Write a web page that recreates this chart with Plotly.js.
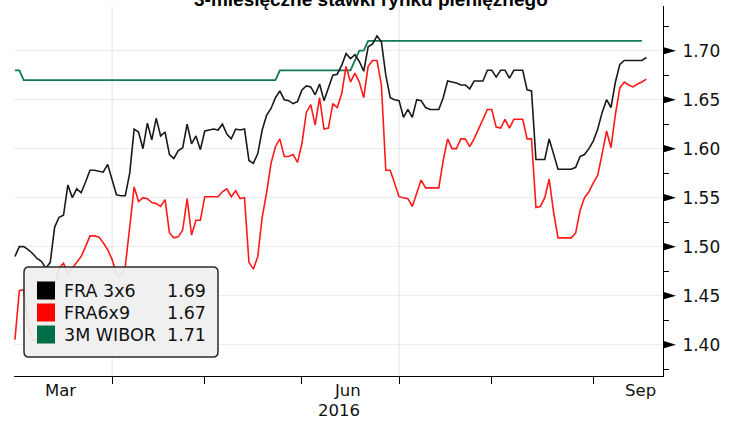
<!DOCTYPE html>
<html><head><meta charset="utf-8">
<script src="https://cdn.plot.ly/plotly-3.0.1.min.js"></script>
<style>html,body{margin:0;padding:0;background:#fff;}#chart{width:735px;height:423px;}</style>
</head><body><div id="chart"></div>
<script>
// ---- data (one value per business day, starting 2016-03-02) ----
const startDate = '2016-03-02';
const fra3x6 = [
1.490,1.500,1.500,1.497,1.493,1.488,1.485,1.478,1.484,1.520,
1.530,1.532,1.563,1.550,1.559,1.555,1.566,1.578,1.578,1.577,
1.576,1.584,1.567,1.553,1.552,1.552,1.575,1.620,1.617,1.600,
1.626,1.609,1.631,1.613,1.617,1.594,1.590,1.598,1.601,1.625,
1.605,1.613,1.599,1.618,1.619,1.620,1.619,1.625,1.615,1.610,
1.620,1.619,1.620,1.588,1.585,1.595,1.619,1.634,1.641,1.652,
1.659,1.650,1.649,1.646,1.648,1.660,1.664,1.663,1.655,1.666,
1.649,1.662,1.675,1.676,1.685,1.697,1.692,1.696,1.689,1.679,
1.704,1.707,1.715,1.709,1.675,1.652,1.650,1.649,1.632,1.640,
1.632,1.650,1.649,1.642,1.640,1.640,1.640,1.652,1.669,1.668,
1.667,1.665,1.665,1.661,1.669,1.669,1.669,1.680,1.680,1.673,
1.680,1.680,1.672,1.680,1.680,1.680,1.660,1.659,1.589,1.589,
1.589,1.610,1.595,1.579,1.579,1.579,1.579,1.581,1.592,1.594,
1.600,1.608,1.620,1.637,1.650,1.642,1.668,1.686,1.690,1.690,
1.690,1.690,1.690,1.693];
const fra6x9 = [
1.405,1.455,1.456,1.420,1.405,1.405,1.405,1.420,1.440,1.460,
1.478,1.483,1.472,1.478,1.484,1.490,1.500,1.511,1.511,1.510,
1.504,1.497,1.487,1.472,1.470,1.480,1.520,1.561,1.546,1.550,
1.549,1.545,1.544,1.541,1.548,1.514,1.509,1.510,1.517,1.549,
1.512,1.527,1.527,1.551,1.551,1.551,1.551,1.556,1.559,1.551,
1.557,1.549,1.550,1.484,1.477,1.490,1.530,1.555,1.585,1.602,
1.610,1.592,1.592,1.594,1.586,1.605,1.637,1.645,1.624,1.652,
1.620,1.621,1.646,1.642,1.656,1.684,1.668,1.677,1.668,1.652,
1.684,1.690,1.690,1.665,1.578,1.578,1.565,1.551,1.550,1.549,
1.541,1.555,1.568,1.560,1.560,1.560,1.560,1.588,1.610,1.600,
1.600,1.610,1.610,1.602,1.610,1.620,1.630,1.640,1.640,1.622,
1.621,1.630,1.621,1.630,1.630,1.630,1.610,1.610,1.540,1.541,
1.550,1.569,1.535,1.509,1.509,1.509,1.509,1.514,1.537,1.550,
1.556,1.565,1.573,1.595,1.618,1.601,1.635,1.662,1.668,1.665,
1.663,1.666,1.668,1.671];
const wibor3m = [
1.68,1.68,1.67,1.67,1.67,1.67,1.67,1.67,1.67,1.67,
1.67,1.67,1.67,1.67,1.67,1.67,1.67,1.67,1.67,1.67,
1.67,1.67,1.67,1.67,1.67,1.67,1.67,1.67,1.67,1.67,
1.67,1.67,1.67,1.67,1.67,1.67,1.67,1.67,1.67,1.67,
1.67,1.67,1.67,1.67,1.67,1.67,1.67,1.67,1.67,1.67,
1.67,1.67,1.67,1.67,1.67,1.67,1.67,1.67,1.67,1.67,
1.68,1.68,1.68,1.68,1.68,1.68,1.68,1.68,1.68,1.68,
1.68,1.68,1.68,1.68,1.68,1.68,1.68,1.69,1.70,1.70,
1.71,1.71,1.71,1.71,1.71,1.71,1.71,1.71,1.71,1.71,
1.71,1.71,1.71,1.71,1.71,1.71,1.71,1.71,1.71,1.71,
1.71,1.71,1.71,1.71,1.71,1.71,1.71,1.71,1.71,1.71,
1.71,1.71,1.71,1.71,1.71,1.71,1.71,1.71,1.71,1.71,
1.71,1.71,1.71,1.71,1.71,1.71,1.71,1.71,1.71,1.71,
1.71,1.71,1.71,1.71,1.71,1.71,1.71,1.71,1.71,1.71,
1.71,1.71,1.71];
const seriesNames = ['FRA 3x6', 'FRA6x9', '3M WIBOR'];
const lastValues = ['1.69', '1.67', '1.71'];
const yTicks = [1.40, 1.45, 1.50, 1.55, 1.60, 1.65, 1.70];
const monthTicks = ['2016-04-01','2016-05-02','2016-06-01','2016-07-01','2016-08-01','2016-09-01'];
const quarterLines = ['2016-04-01','2016-07-01'];
const monthLabels = ['Mar', 'Jun', 'Sep'];
const monthLabelDates = ['2016-03-16 10:00','2016-06-15 10:00','2016-09-15 14:00'];
const yearLabel = '2016';
const titleText = '3-miesięczne stawki rynku pieniężnego';

// ---- styles ----
const lineColors = ['#1a1a1a', '#ff1a1a', '#137a56'];
const swatchColors = ['#000000', '#ff0000', '#006e46'];
const FONT = 'DejaVu Sans, Verdana, sans-serif';

function businessDays(start, n) {
  const out = [];
  const d = new Date(start + 'T00:00:00Z');
  while (out.length < n) {
    const w = d.getUTCDay();
    if (w !== 0 && w !== 6) out.push(d.toISOString().slice(0, 10));
    d.setUTCDate(d.getUTCDate() + 1);
  }
  return out;
}

const values = [fra3x6, fra6x9, wibor3m];
const traces = values.map((v, i) => ({
  type: 'scatter', mode: 'lines',
  x: businessDays(startDate, v.length), y: v,
  name: seriesNames[i],
  line: {color: lineColors[i], width: i === 2 ? 1.8 : 1.6},
  hoverinfo: 'skip'
}));
// draw green first, then red, then black on top
const ordered = [traces[2], traces[1], traces[0]];

const W = 735, H = 423, ML = 14, MR = 72, MT = 6, MB = 47;
const PW = W - ML - MR, PH = H - MT - MB;
const px = x => (x - ML) / PW;
const py = y => (H - MB - y) / PH;

const shapes = [];
quarterLines.forEach(d => shapes.push({type: 'line', xref: 'x', yref: 'paper', x0: d, x1: d, y0: 0, y1: 1,
  line: {color: '#ececec', width: 1.5}, layer: 'below'}));
// triangle tick markers on right axis
const triLen = 13 / PW, triHalf = 3.8 * (1.7456 - 1.368) / PH;
yTicks.forEach(t => shapes.push({type: 'path', xref: 'paper', yref: 'y',
  path: `M 1,${t - triHalf} L ${1 + triLen},${t} L 1,${t + triHalf} Z`,
  fillcolor: '#000', line: {width: 0}}));
// legend box
{
  const l = px(24), r = px(218), t = py(267), b = py(357);
  const rx = 5 / PW, ry = 5 / PH;
  shapes.push({type: 'path', xref: 'paper', yref: 'paper',
    path: `M ${l + rx},${t} L ${r - rx},${t} Q ${r},${t} ${r},${t - ry} L ${r},${b + ry} Q ${r},${b} ${r - rx},${b} L ${l + rx},${b} Q ${l},${b} ${l},${b + ry} L ${l},${t - ry} Q ${l},${t} ${l + rx},${t} Z`,
    fillcolor: 'rgba(239,239,239,0.93)', line: {color: '#2a2a2a', width: 1.5}});
}
const rowCenters = [290.5, 312.5, 334.5];
rowCenters.forEach((c, i) => shapes.push({type: 'rect', xref: 'paper', yref: 'paper',
  x0: px(37), x1: px(55), y0: py(c + 9), y1: py(c - 9), fillcolor: swatchColors[i], line: {width: 0}}));

const annotations = [];
annotations.push({text: '<b>' + titleText + '</b>', xref: 'paper', yref: 'paper', x: px(371), y: py(12),
  xanchor: 'center', yanchor: 'bottom', showarrow: false,
  font: {family: 'Liberation Sans, Arial, sans-serif', size: 19, color: '#000'}});
monthLabels.forEach((m, i) => annotations.push({text: m, xref: 'x', yref: 'paper', x: monthLabelDates[i], y: py(390),
  xanchor: 'center', yanchor: 'middle', showarrow: false, font: {family: FONT, size: 16.5, color: '#111'}}));
annotations.push({text: yearLabel, xref: 'paper', yref: 'paper', x: 0.5, y: py(411),
  xanchor: 'center', yanchor: 'middle', showarrow: false, font: {family: FONT, size: 16.5, color: '#111'}});
rowCenters.forEach((c, i) => {
  annotations.push({text: seriesNames[i], xref: 'paper', yref: 'paper', x: px(62), y: py(c),
    xanchor: 'left', yanchor: 'middle', showarrow: false, font: {family: FONT, size: 17.5, color: '#111'}});
  annotations.push({text: lastValues[i], xref: 'paper', yref: 'paper', x: px(165), y: py(c),
    xanchor: 'left', yanchor: 'middle', showarrow: false, font: {family: FONT, size: 17.5, color: '#111'}});
});

const layout = {
  width: W, height: H, margin: {l: ML, r: MR, t: MT, b: MB, pad: 0},
  paper_bgcolor: '#fff', plot_bgcolor: '#fff', showlegend: false,
  xaxis: {
    type: 'date', range: ['2016-03-01 19:00', '2016-09-22 18:40'],
    rangebreaks: [{bounds: ['sat', 'mon']}],
    tickmode: 'array', tickvals: monthTicks, ticktext: monthTicks.map(() => ''),
    ticks: 'outside', ticklen: 7, tickcolor: '#000', tickwidth: 1,
    showgrid: false, showline: true, linecolor: '#000', linewidth: 1, zeroline: false, fixedrange: true
  },
  yaxis: {
    side: 'right', range: [1.368, 1.7456],
    tickmode: 'linear', tick0: 1.40, dtick: 0.05, tickformat: '.2f',
    ticks: '', ticklabelstandoff: 15,
    showline: true, linecolor: '#000', linewidth: 1,
    showgrid: true, gridcolor: '#ececec', gridwidth: 1.5, zeroline: false,
    tickfont: {family: FONT, size: 17, color: '#111'},
    minor: {tick0: 1.375, dtick: 0.05, ticks: 'outside', ticklen: 5, tickcolor: '#000', tickwidth: 1, showgrid: false},
    fixedrange: true
  },
  shapes: shapes, annotations: annotations
};

Plotly.newPlot('chart', ordered, layout, {displayModeBar: false, staticPlot: true});
</script>
</body></html>
